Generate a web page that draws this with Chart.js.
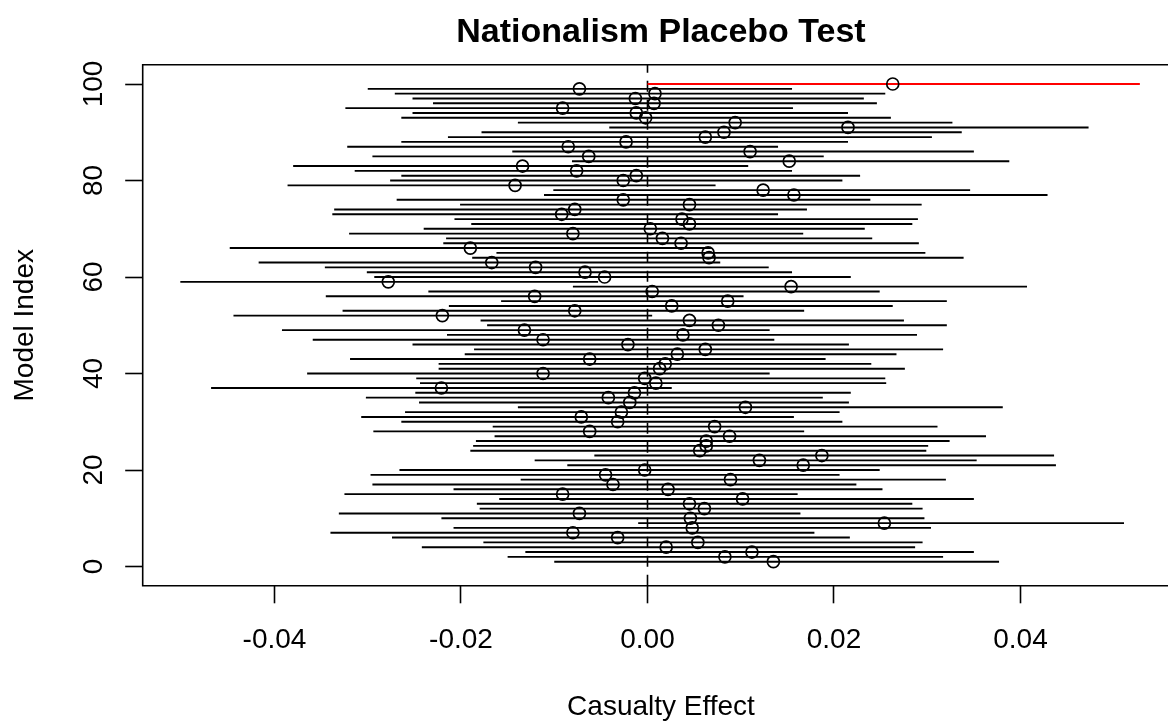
<!DOCTYPE html>
<html lang="en">
<head>
  <meta charset="UTF-8">
  <title>Nationalism Placebo Test</title>
  <style>
    html, body {
      margin: 0;
      padding: 0;
      background: #fff;
      overflow: hidden;
    }
    #placebo {
      display: block;
      width: 1168px;
      height: 725px;
    }
  </style>
  <script src="https://cdn.jsdelivr.net/npm/chart.js"></script>
</head>
<body>
  <canvas id="placebo" width="1168" height="725"></canvas>

  <script>
    // Model index (y axis)
    const models = [
      1, 2, 3, 4, 5, 6, 7, 8, 9, 10, 11, 12, 13, 14, 15, 16, 17, 18, 19, 20,
      21, 22, 23, 24, 25, 26, 27, 28, 29, 30, 31, 32, 33, 34, 35, 36, 37, 38, 39, 40,
      41, 42, 43, 44, 45, 46, 47, 48, 49, 50, 51, 52, 53, 54, 55, 56, 57, 58, 59, 60,
      61, 62, 63, 64, 65, 66, 67, 68, 69, 70, 71, 72, 73, 74, 75, 76, 77, 78, 79, 80,
      81, 82, 83, 84, 85, 86, 87, 88, 89, 90, 91, 92, 93, 94, 95, 96, 97, 98, 99, 100
    ];

    // Point estimate of the causal effect, model 1..100
    const estimate = [
      0.0135, 0.0083, 0.0112, 0.0020, 0.0054, -0.0032, -0.0080, 0.0048, 0.0254, 0.0046,
      -0.0073, 0.0061, 0.0045, 0.0102, -0.0091, 0.0022, -0.0037, 0.0089, -0.0045, -0.0003,
      0.0167, 0.0120, 0.0187, 0.0056, 0.0063, 0.0063, 0.0088, -0.0062, 0.0072, -0.0032,
      -0.0071, -0.0028, 0.0105, -0.0019, -0.0042, -0.0014, -0.0221, 0.0009, -0.0003, -0.0112,
      0.0013, 0.0019, -0.0062, 0.0032, 0.0062, -0.0021, -0.0112, 0.0038, -0.0132, 0.0076,
      0.0045, -0.0220, -0.0078, 0.0026, 0.0086, -0.0121, 0.0005, 0.0154, -0.0278, -0.0046,
      -0.0067, -0.0120, -0.0167, 0.0066, 0.0065, -0.0190, 0.0036, 0.0016, -0.0080, 0.0003,
      0.0045, 0.0037, -0.0092, -0.0078, 0.0045, -0.0026, 0.0157, 0.0124, -0.0142, -0.0026,
      -0.0012, -0.0076, -0.0134, 0.0152, -0.0063, 0.0110, -0.0085, -0.0023, 0.0062, 0.0082,
      0.0215, 0.0094, -0.0002, -0.0012, -0.0091, 0.0007, -0.0013, 0.0008, -0.0073, 0.0263
    ];

    // Lower end of the interval
    const lower = [
      -0.0100, -0.0150, -0.0131, -0.0242, -0.0176, -0.0274, -0.0340, -0.0208, -0.0010, -0.0221,
      -0.0331, -0.0180, -0.0183, -0.0159, -0.0325, -0.0208, -0.0295, -0.0136, -0.0297, -0.0266,
      -0.0086, -0.0121, -0.0057, -0.0190, -0.0187, -0.0184, -0.0164, -0.0294, -0.0166, -0.0264,
      -0.0307, -0.0260, -0.0139, -0.0245, -0.0302, -0.0249, -0.0468, -0.0244, -0.0248, -0.0365,
      -0.0224, -0.0224, -0.0319, -0.0196, -0.0186, -0.0252, -0.0359, -0.0215, -0.0392, -0.0172,
      -0.0179, -0.0444, -0.0327, -0.0213, -0.0157, -0.0345, -0.0235, -0.0080, -0.0501, -0.0293,
      -0.0301, -0.0346, -0.0417, -0.0188, -0.0162, -0.0448, -0.0219, -0.0216, -0.0320, -0.0240,
      -0.0189, -0.0207, -0.0338, -0.0336, -0.0201, -0.0269, -0.0111, -0.0101, -0.0386, -0.0276,
      -0.0264, -0.0314, -0.0380, -0.0081, -0.0295, -0.0145, -0.0322, -0.0264, -0.0214, -0.0178,
      -0.0041, -0.0139, -0.0264, -0.0252, -0.0324, -0.0230, -0.0252, -0.0271, -0.0300, 0.0000
    ];

    // Upper end of the interval
    const upper = [
      0.0377, 0.0317, 0.0350, 0.0287, 0.0295, 0.0217, 0.0179, 0.0304, 0.0511, 0.0297,
      0.0164, 0.0295, 0.0284, 0.0350, 0.0161, 0.0252, 0.0224, 0.0320, 0.0206, 0.0249,
      0.0438, 0.0353, 0.0436, 0.0299, 0.0301, 0.0324, 0.0363, 0.0168, 0.0311, 0.0209,
      0.0157, 0.0206, 0.0381, 0.0216, 0.0188, 0.0218, 0.0026, 0.0256, 0.0255, 0.0131,
      0.0276, 0.0240, 0.0191, 0.0267, 0.0317, 0.0216, 0.0136, 0.0289, 0.0131, 0.0321,
      0.0275, 0.0005, 0.0168, 0.0263, 0.0321, 0.0103, 0.0249, 0.0407, -0.0053, 0.0218,
      0.0155, 0.0130, 0.0078, 0.0339, 0.0298, 0.0068, 0.0291, 0.0241, 0.0167, 0.0233,
      0.0284, 0.0290, 0.0140, 0.0171, 0.0294, 0.0239, 0.0429, 0.0346, 0.0073, 0.0209,
      0.0228, 0.0155, 0.0108, 0.0388, 0.0189, 0.0350, 0.0140, 0.0215, 0.0305, 0.0337,
      0.0473, 0.0327, 0.0261, 0.0215, 0.0156, 0.0246, 0.0232, 0.0255, 0.0155, 0.0528
    ];

    const highlight = 100; // the real model, drawn in red
    const xTicks = [-0.04, -0.02, 0, 0.02, 0.04];
    const yTicks = [0, 20, 40, 60, 80, 100];
    // the original plot box ends just past the right edge of the image
    const xMin = -0.054134, xMax = 0.055818;
    const yMin = -4, yMax = 104;

    const FONT = '"Liberation Sans", Arial, Helvetica, sans-serif';

    // one segment per model, broken apart with NaN gaps
    const segs = [];
    const redSeg = [];
    models.forEach((m, i) => {
      const target = m === highlight ? redSeg : segs;
      target.push({ x: lower[i], y: m }, { x: upper[i], y: m }, { x: NaN, y: NaN });
    });
    const points = models.map((m, i) => ({ x: estimate[i], y: m }));

    // box (open on the cut-off right side), tick labels, axis titles, main title
    const rStyle = {
      id: 'rStyle',
      afterDraw(chart) {
        const { ctx, chartArea: a, scales: { x, y } } = chart;
        ctx.save();
        ctx.strokeStyle = '#000';
        ctx.lineWidth = 1.6;
        ctx.beginPath();
        ctx.moveTo(a.right + 2, a.top);
        ctx.lineTo(a.left, a.top);
        ctx.lineTo(a.left, a.bottom);
        ctx.lineTo(a.right + 2, a.bottom);
        ctx.stroke();

        ctx.fillStyle = '#000';
        ctx.textAlign = 'center';
        ctx.textBaseline = 'alphabetic';
        ctx.font = '28px ' + FONT;
        xTicks.forEach(v => ctx.fillText(v.toFixed(2), x.getPixelForValue(v), 648));
        ctx.fillText('Casualty Effect', 661, 715);

        yTicks.forEach(v => {
          ctx.save();
          ctx.translate(102, y.getPixelForValue(v));
          ctx.rotate(-Math.PI / 2);
          ctx.fillText(String(v), 0, 0);
          ctx.restore();
        });
        ctx.save();
        ctx.translate(33, (a.top + a.bottom) / 2);
        ctx.rotate(-Math.PI / 2);
        ctx.fillText('Model Index', 0, 0);
        ctx.restore();

        ctx.font = 'bold 34px ' + FONT;
        ctx.fillText('Nationalism Placebo Test', 661, 42);
        ctx.restore();
      }
    };

    const axisGrid = {
      drawOnChartArea: false,
      drawTicks: true,
      tickLength: 17.5,
      tickColor: '#000',
      tickWidth: 1.6,
      color: '#000'
    };

    new Chart(document.getElementById('placebo'), {
      type: 'scatter',
      data: {
        datasets: [
          {
            label: 'Estimate',
            data: points,
            showLine: false,
            pointRadius: 6,
            pointBorderWidth: 1.7,
            pointBorderColor: '#000',
            pointBackgroundColor: 'rgba(0,0,0,0)'
          },
          {
            label: 'Interval',
            data: segs,
            showLine: true,
            spanGaps: false,
            borderColor: '#000',
            borderWidth: 1.9,
            pointRadius: 0
          },
          {
            label: 'Model ' + highlight,
            data: redSeg,
            showLine: true,
            spanGaps: false,
            borderColor: '#ff0000',
            borderWidth: 1.9,
            pointRadius: 0
          },
          {
            label: 'Zero',
            data: [{ x: 0, y: yMin }, { x: 0, y: yMax }],
            showLine: true,
            borderColor: '#000',
            borderWidth: 1.6,
            borderDash: [11, 8],
            pointRadius: 0
          }
        ]
      },
      options: {
        responsive: false,
        animation: false,
        events: [],
        devicePixelRatio: 1,
        layout: {
          autoPadding: false,
          padding: { top: 64.7, right: 0, bottom: 0, left: 0 }
        },
        plugins: {
          legend: { display: false },
          tooltip: { enabled: false }
        },
        scales: {
          x: {
            type: 'linear',
            min: xMin,
            max: xMax,
            afterBuildTicks: s => { s.ticks = xTicks.map(v => ({ value: v })); },
            afterFit: s => { s.height = 139.2; },
            ticks: { display: false },
            grid: axisGrid,
            border: { display: false }
          },
          y: {
            type: 'linear',
            min: yMin,
            max: yMax,
            afterBuildTicks: s => { s.ticks = yTicks.map(v => ({ value: v })); },
            afterFit: s => { s.width = 142.7; },
            ticks: { display: false },
            grid: axisGrid,
            border: { display: false }
          }
        }
      },
      plugins: [rStyle]
    });
  </script>
</body>
</html>
